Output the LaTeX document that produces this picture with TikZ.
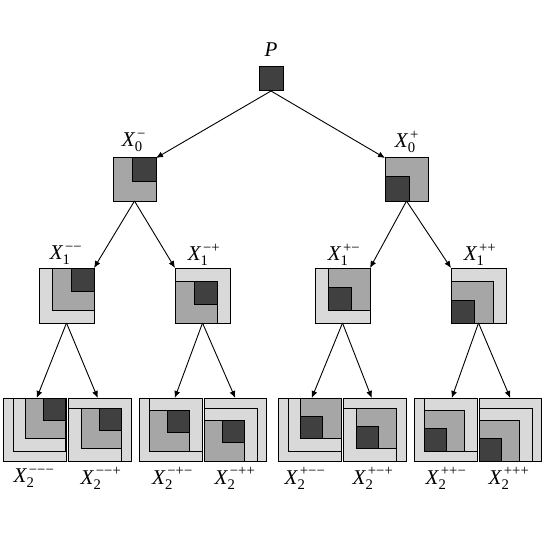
\documentclass[tikz,border=0pt]{standalone}
\usepackage{amsmath}
\usepackage{fontspec}
\setmainfont{Liberation Serif}
\usetikzlibrary{arrows.meta,calc}
\definecolor{drk}{HTML}{404040}
\definecolor{med}{HTML}{A6A6A6}
\definecolor{lite}{HTML}{D9D9D9}
\tikzset{
  sqbox/.style={draw=black, line width=1pt, inner sep=0pt, outer sep=0pt},
  drkf/.style={draw=black, line width=1pt, fill=drk},
  medf/.style={draw=black, line width=1pt, fill=med},
  litf/.style={draw=black, line width=1pt, fill=lite},
  arr/.style={line width=0.9pt, -{Latex[length=7pt,width=6pt]}},
  lbl/.style={font=\fontsize{21}{25}\selectfont, inner sep=0pt}
}
\newcommand{\innersq}[4]{%
  \filldraw[medf] (#1,#2) rectangle ++(42,42);
  \filldraw[drkf] ({#1+#3},{#2+#4}) rectangle ++(23,23);}
\newcommand{\xlab}[2]{$\textit{X}_{\text{#1}}^{\,\text{#2}}$}
\begin{document}
\begin{tikzpicture}[x=1pt,y=-1pt]
\useasboundingbox (0,0) rectangle (545,545);
% level P
\node[sqbox, fill=drk, minimum width=24pt, minimum height=24pt] (p) at (271,79) {};
\node[lbl] (lp) at (271,50) {\textit{P}};
% level 0
\node[sqbox, fill=med, minimum width=43pt, minimum height=43pt] (am) at (134.5,179.5) {};
\filldraw[drkf] (132,158) rectangle ++(24,24);
\node[sqbox, fill=med, minimum width=43pt, minimum height=43pt] (ap) at (406.5,179.5) {};
\filldraw[drkf] (385,177) rectangle ++(24,24);
\node[lbl] (lam) at (134,142) {\xlab{0}{−}};
\node[lbl] (lap) at (407,142) {\xlab{0}{+}};
% level 1
\node[sqbox, fill=lite, minimum width=55pt, minimum height=55pt] (bmm) at (66.5,295.5) {};
\begin{scope}[shift={(39,268)}]\innersq{13}{0}{19}{0}\end{scope}
\node[sqbox, fill=lite, minimum width=55pt, minimum height=55pt] (bmp) at (202.5,295.5) {};
\begin{scope}[shift={(175,268)}]\innersq{0}{13}{19}{0}\end{scope}
\node[sqbox, fill=lite, minimum width=55pt, minimum height=55pt] (bpm) at (342.5,295.5) {};
\begin{scope}[shift={(315,268)}]\innersq{13}{0}{0}{19}\end{scope}
\node[sqbox, fill=lite, minimum width=55pt, minimum height=55pt] (bpp) at (478.5,295.5) {};
\begin{scope}[shift={(451,268)}]\innersq{0}{13}{0}{19}\end{scope}
\node[lbl] (lbmm) at (66,255) {\xlab{1}{−−}};
\node[lbl] (lbmp) at (204,255) {\xlab{1}{−+}};
\node[lbl] (lbpm) at (344,255) {\xlab{1}{+−}};
\node[lbl] (lbpp) at (480,255) {\xlab{1}{++}};
% level 2
\foreach \nm/\xo/\ix/\iy/\mx/\my/\dx/\dy in {
  cmmm/3.5/9.5/0/13/0/19/0,
  cmmp/68.5/0/10/13/0/19/0,
  cmpm/139.5/9.5/0/0/13/19/0,
  cmpp/204/0/10/0/13/19/0,
  cpmm/278.5/9.5/0/13/0/0/19,
  cpmp/343.5/0/10/13/0/0/19,
  cppm/414.5/9.5/0/0/13/0/19,
  cppp/479/0/10/0/13/0/19}{
  \node[sqbox, fill=lite, minimum width=62.5pt, minimum height=63pt] (\nm) at ({\xo+31.25},429.5) {};
  \begin{scope}[shift={({\xo+\ix},{398+\iy})}, scale=0.9636]
    \filldraw[litf] (0,0) rectangle (55,55);
    \innersq{\mx}{\my}{\dx}{\dy}
  \end{scope}
}
\node[lbl] at (34,478.5) {\xlab{2}{−−−}};
\node[lbl] at (101,478.5) {\xlab{2}{−−+}};
\node[lbl] at (172.5,478.5) {\xlab{2}{−+−}};
\node[lbl] at (235,478.5) {\xlab{2}{−++}};
\node[lbl] at (305,478.5) {\xlab{2}{+−−}};
\node[lbl] at (373,478.5) {\xlab{2}{+−+}};
\node[lbl] at (446,478.5) {\xlab{2}{++−}};
\node[lbl] at (509,478.5) {\xlab{2}{+++}};
% arrows
\draw[arr] (p.south) -- (am.north east);
\draw[arr] (p.south) -- (ap.north west);
\draw[arr] (am.south) -- (bmm.north east);
\draw[arr] (am.south) -- (bmp.north west);
\draw[arr] (ap.south) -- (bpm.north east);
\draw[arr] (ap.south) -- (bpp.north west);
\draw[arr] (bmm.south) -- ($(cmmm.north)+(2,0)$);
\draw[arr] (bmm.south) -- ($(cmmp.north)+(-2,0)$);
\draw[arr] (bmp.south) -- ($(cmpm.north)+(4,0)$);
\draw[arr] (bmp.south) -- ($(cmpp.north)+(0,0)$);
\draw[arr] (bpm.south) -- ($(cpmm.north)+(2,0)$);
\draw[arr] (bpm.south) -- ($(cpmp.north)+(-3,0)$);
\draw[arr] (bpp.south) -- ($(cppm.north)+(6,0)$);
\draw[arr] (bpp.south) -- ($(cppp.north)+(0,0)$);
\end{tikzpicture}
\end{document}
